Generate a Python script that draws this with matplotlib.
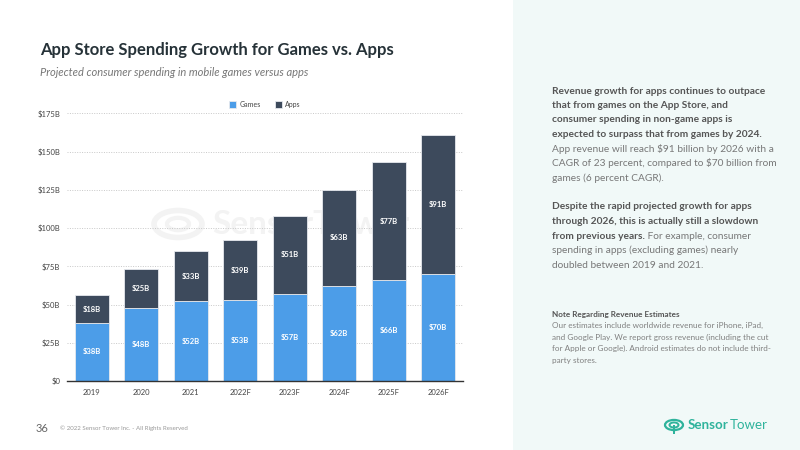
import matplotlib
matplotlib.use("Agg")
import matplotlib.pyplot as plt
from matplotlib.patches import Rectangle, Circle
import numpy as np

years = ["2019", "2020", "2021", "2022F", "2023F", "2024F", "2025F", "2026F"]
games = [38, 48, 52, 53, 57, 62, 66, 70]
apps = [18, 25, 33, 39, 51, 63, 77, 91]
yticks = [0, 25, 50, 75, 100, 125, 150, 175]
ytick_labels = ["$0", "$25B", "$50B", "$75B", "$100B", "$125B", "$150B", "$175B"]

GAMES_C = "#4c9de8"
APPS_C = "#3d4a5c"
FONT = "Lato"

fig = plt.figure(figsize=(8, 4.5), dpi=100)
W, H = 800, 450

def fx(x):
    return x / W

def fy(y):
    return 1 - y / H

# right panel
fig.patches.append(Rectangle((fx(513), 0), 1 - fx(513), 1, transform=fig.transFigure,
                             facecolor="#f1f9f8", edgecolor="none", zorder=-3))

# title
fig.text(fx(40), fy(50), "App Store Spending Growth for Games vs. Apps", fontsize=12,
         fontweight="bold", color="#263238", family=FONT, va="center", ha="left")
fig.text(fx(40), fy(72), "Projected consumer spending in mobile games versus apps", fontsize=8,
         style="italic", color="#777777", family=FONT, va="center", ha="left")

ax = fig.add_axes([fx(67), 1 - 381 / H, (463 - 67) / W, (381 - 113.3) / H])
x = np.arange(len(years))
bw = 0.69
ax.bar(x, games, bw, color=GAMES_C, edgecolor="#e6e9ee", linewidth=0.6, zorder=3, label="Games")
ax.bar(x, apps, bw, bottom=games, color=APPS_C, edgecolor="#e6e9ee", linewidth=0.6, zorder=3, label="Apps")
for i in range(len(years)):
    ax.text(x[i], games[i] / 2, f"${games[i]}B", ha="center", va="center", color="white",
            fontsize=5.5, fontweight="bold", family=FONT, zorder=4)
    ax.text(x[i], games[i] + apps[i] / 2, f"${apps[i]}B", ha="center", va="center", color="white",
            fontsize=5.5, fontweight="bold", family=FONT, zorder=4)

ax.set_xlim(-0.5, len(years) - 0.5)
ax.set_ylim(0, 175)
ax.set_yticks(yticks)
ax.set_yticklabels(ytick_labels)
ax.set_xticks(x)
ax.set_xticklabels(years)
for s in ["top", "right", "left"]:
    ax.spines[s].set_visible(False)
ax.spines["bottom"].set_color("#333333")
ax.spines["bottom"].set_linewidth(1.0)
ax.spines["bottom"].set_zorder(5)
ax.tick_params(axis="both", length=0, labelsize=5.5, labelcolor="#444444")
ax.tick_params(axis="y", pad=5)
ax.tick_params(axis="x", pad=6)
for lab in ax.get_xticklabels() + ax.get_yticklabels():
    lab.set_family(FONT)
ax.yaxis.grid(True, linestyle=(0, (1, 1.5)), color="#c8c8c8", linewidth=0.7, zorder=0)
ax.set_axisbelow(True)
ax.patch.set_alpha(0)

leg = ax.legend(loc="upper center", bbox_to_anchor=(0.5, 1.07), ncol=2, frameon=False,
                handlelength=1.0, handleheight=1.0, columnspacing=2.0,
                handletextpad=0.5, prop={"family": FONT, "size": 5})
for t in leg.get_texts():
    t.set_color("#444444")

# watermark (behind the axes content)
fig.patches.append(Circle((fx(178), fy(224)), 24 / W, transform=fig.transFigure,
                          facecolor="none", edgecolor="#f3f3f3", linewidth=4, zorder=-2))
fig.patches.append(Circle((fx(178), fy(224)), 11 / W, transform=fig.transFigure,
                          facecolor="none", edgecolor="#f3f3f3", linewidth=3, zorder=-2))
fig.text(fx(212), fy(224), "SensorTower", fontsize=24, fontweight="bold", color="#f3f3f3",
         family=FONT, va="center", ha="left", zorder=-2)

# right panel text
renderer = fig.canvas.get_renderer()
BODY = 7.3
X0 = fx(552)

def mixed(y, parts, size=BODY, colors=("#555555", "#777777")):
    xpos = X0
    for txt, bold in parts:
        t = fig.text(xpos, fy(y), txt, fontsize=size, fontweight="bold" if bold else "normal",
                     color=colors[0] if bold else colors[1], family=FONT, va="center", ha="left")
        bb = t.get_window_extent(renderer=renderer)
        xpos = fig.transFigure.inverted().transform((bb.x1, 0))[0]

lines = [
    (91, [("Revenue growth for apps continues to outpace", True)]),
    (105.5, [("that from games on the App Store, and", True)]),
    (120, [("consumer spending in non-game apps is", True)]),
    (134.5, [("expected to surpass that from games by 2024.", True)]),
    (149, [("App revenue will reach $91 billion by 2026 with a", False)]),
    (163.5, [("CAGR of 23 percent, compared to $70 billion from", False)]),
    (178, [("games (6 percent CAGR).", False)]),
    (207, [("Despite the rapid projected growth for apps", True)]),
    (221.5, [("through 2026, this is actually still a slowdown", True)]),
    (236, [("from previous years.", True), (" For example, consumer", False)]),
    (250.5, [("spending in apps (excluding games) nearly", False)]),
    (265, [("doubled between 2019 and 2021.", False)]),
]
for y, parts in lines:
    mixed(y, parts)

note = [
    (314, [("Note Regarding Revenue Estimates", True)]),
    (325.5, [("Our estimates include worldwide revenue for iPhone, iPad,", False)]),
    (337, [("and Google Play. We report gross revenue (including the cut", False)]),
    (348.5, [("for Apple or Google). Android estimates do not include third-", False)]),
    (360, [("party stores.", False)]),
]
for y, parts in note:
    mixed(y, parts, size=5.9, colors=("#555555", "#808080"))

# footer
fig.text(fx(36), fy(428), "36", fontsize=8, color="#666666", family=FONT, va="center", ha="left")
fig.text(fx(60), fy(428), "\u00a9 2022 Sensor Tower Inc. - All Rights Reserved", fontsize=4.4,
         color="#999999", family=FONT, va="center", ha="left")

TEAL = "#2fb39c"
fig.patches.append(Circle((fx(674), fy(425)), 9 / W, transform=fig.transFigure,
                          facecolor="none", edgecolor=TEAL, linewidth=1.6, zorder=2))
fig.patches.append(Circle((fx(674), fy(425)), 4.5 / W, transform=fig.transFigure,
                          facecolor="none", edgecolor=TEAL, linewidth=1.4, zorder=2))
fig.patches.append(Rectangle((fx(673), fy(434)), 2 / W, 9 / H, transform=fig.transFigure,
                             facecolor=TEAL, edgecolor="none", zorder=3))
t1 = fig.text(fx(688), fy(425), "Sensor", fontsize=9.6, fontweight="bold", color=TEAL,
              family=FONT, va="center", ha="left")
bb = t1.get_window_extent(renderer=renderer)
fig.text(fig.transFigure.inverted().transform((bb.x1 + 1, 0))[0], fy(425), "Tower", fontsize=9.6,
         color=TEAL, family=FONT, va="center", ha="left")

fig.savefig("out.png", dpi=100)
